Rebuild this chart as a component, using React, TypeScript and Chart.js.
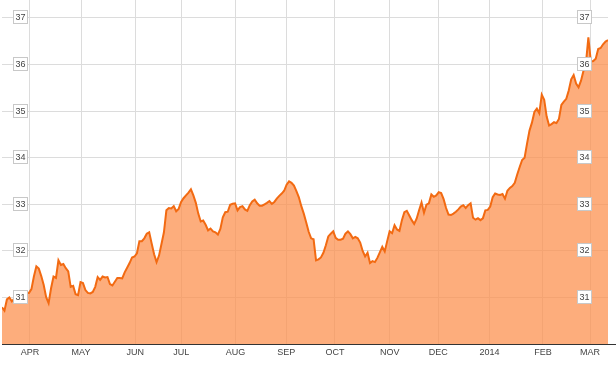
import React, { useEffect, useRef } from "react";
import { Chart, registerables } from "chart.js";

Chart.register(...registerables);

// Daily closing prices (trading days, mid-March 2013 to mid-March 2014)
const prices: number[] = [
  30.79, 30.72, 30.96, 31.0, 30.92, 30.98, 31.0, 31.02, 31.05, 31.07,
  31.1, 31.1, 31.18, 31.45, 31.67, 31.62, 31.46, 31.27, 31.01, 30.88,
  31.2, 31.45, 31.42, 31.8, 31.7, 31.72, 31.63, 31.56, 31.23, 31.25,
  31.07, 31.05, 31.33, 31.31, 31.16, 31.1, 31.09, 31.12, 31.23, 31.44,
  31.38, 31.45, 31.43, 31.44, 31.29, 31.26, 31.34, 31.42, 31.42, 31.41,
  31.54, 31.64, 31.74, 31.86, 31.88, 31.95, 32.21, 32.21, 32.27, 32.37,
  32.4, 32.16, 31.93, 31.76, 31.9, 32.15, 32.4, 32.87, 32.92, 32.91,
  32.96, 32.85, 32.9, 33.05, 33.13, 33.19, 33.25, 33.32, 33.19, 33.03,
  32.8, 32.63, 32.65, 32.56, 32.44, 32.48, 32.42, 32.4, 32.35, 32.47,
  32.72, 32.83, 32.84, 32.99, 33.01, 33.02, 32.87, 32.94, 32.96, 32.89,
  32.86, 32.98, 33.06, 33.1, 33.02, 32.97, 32.97, 33.0, 33.03, 33.07,
  33.01, 33.05, 33.12, 33.18, 33.23, 33.29, 33.42, 33.49, 33.46, 33.4,
  33.28, 33.15, 32.96, 32.8, 32.61, 32.41, 32.27, 32.25, 31.8, 31.82,
  31.86, 31.96, 32.12, 32.31, 32.37, 32.42, 32.28, 32.24, 32.24, 32.26,
  32.37, 32.42, 32.36, 32.27, 32.3, 32.27, 32.18, 32.0, 31.88, 31.96,
  31.74, 31.78, 31.76, 31.85, 31.97, 32.09, 31.99, 32.21, 32.42, 32.38,
  32.55, 32.46, 32.43, 32.66, 32.83, 32.86, 32.76, 32.66, 32.58, 32.69,
  32.87, 33.04, 32.82, 32.99, 33.02, 33.21, 33.16, 33.19, 33.26, 33.24,
  33.11, 32.92, 32.78, 32.77, 32.8, 32.84, 32.89, 32.95, 32.98, 32.92,
  32.98, 33.02, 32.71, 32.67, 32.7, 32.66, 32.7, 32.87, 32.88, 32.95,
  33.15, 33.23, 33.21, 33.2, 33.22, 33.12, 33.29, 33.35, 33.39, 33.46,
  33.64, 33.8, 33.95, 34.0, 34.3, 34.58, 34.75, 34.98, 35.05, 34.95,
  35.35, 35.24, 34.88, 34.69, 34.72, 34.76, 34.74, 34.83, 35.13, 35.2,
  35.26, 35.44, 35.68, 35.77, 35.59, 35.51, 35.65, 35.86, 36.02, 36.58,
  36.06, 36.07, 36.12, 36.33, 36.35, 36.43, 36.49, 36.52,
];

// Month labels and the trading-day index where each month starts
const monthLabels: string[] = ["APR", "MAY", "JUN", "JUL", "AUG", "SEP", "OCT", "NOV", "DEC", "2014", "FEB", "MAR"];
const monthStartIndex: number[] = [11.4, 32.2, 54.3, 73.1, 95.2, 115.9, 135.7, 158, 177.8, 198.7, 220.5, 239.7];

// Price axis
const yTicks: number[] = [31, 32, 33, 34, 35, 36, 37];
const yMin = 30;
const yMax = 37.38;

const LINE_COLOR = "#f26a12";
const FILL_COLOR = "rgba(252,146,80,0.75)";
const GRID_COLOR = "#dcdcdc";
const TEXT_COLOR = "#444444";
const FONT_FAMILY = "'Liberation Sans', Arial, sans-serif";

const boxLabelsPlugin = {
  id: "boxLabels",
  afterDraw(chart: any) {
    const { ctx, chartArea, scales } = chart;
    const y = scales.y;
    ctx.save();
    // bottom axis line
    ctx.strokeStyle = "#333333";
    ctx.lineWidth = 1;
    ctx.beginPath();
    ctx.moveTo(chartArea.left, Math.round(chartArea.bottom) + 0.5);
    ctx.lineTo(chart.width, Math.round(chartArea.bottom) + 0.5);
    ctx.stroke();

    ctx.font = `9px ${FONT_FAMILY}`;
    ctx.textAlign = "center";
    ctx.textBaseline = "middle";
    const w = 14;
    const h = 13;
    const centers = [chartArea.left + 17.5, chartArea.right - 24.5];
    yTicks.forEach((v) => {
      const py = y.getPixelForValue(v);
      centers.forEach((cx) => {
        const bx = Math.round(cx - w / 2) + 0.5;
        const by = Math.round(py - h / 2) - 0.5;
        ctx.fillStyle = "#ffffff";
        ctx.fillRect(bx, by, w, h);
        ctx.strokeStyle = "#c8c8c8";
        ctx.strokeRect(bx, by, w, h);
        ctx.fillStyle = TEXT_COLOR;
        ctx.fillText(String(v), bx + w / 2, by + h / 2 + 0.5);
      });
    });
    ctx.restore();
  },
};

export default function App() {
  const canvasRef = useRef<HTMLCanvasElement | null>(null);

  useEffect(() => {
    const canvas = canvasRef.current;
    if (!canvas) return;
    const chart = new Chart(canvas, {
      type: "line",
      data: {
        datasets: [
          {
            data: prices.map((p, i) => ({ x: i, y: p })),
            borderColor: LINE_COLOR,
            borderWidth: 2,
            backgroundColor: FILL_COLOR,
            fill: "start",
            pointRadius: 0,
            tension: 0,
          },
        ],
      },
      options: {
        responsive: false,
        animation: false,
        events: [],
        layout: { padding: { left: 2, right: 8, top: 0, bottom: 8 } },
        plugins: {
          legend: { display: false },
          tooltip: { enabled: false },
        },
        scales: {
          x: {
            type: "linear",
            min: 0,
            max: prices.length - 1,
            afterBuildTicks: (scale: any) => {
              scale.ticks = monthStartIndex.map((v) => ({ value: v }));
            },
            ticks: {
              autoSkip: false,
              maxRotation: 0,
              padding: 3,
              color: TEXT_COLOR,
              font: { family: FONT_FAMILY, size: 9 },
              callback: (_v: any, index: number) => monthLabels[index],
            },
            grid: { color: GRID_COLOR, drawTicks: false, lineWidth: 1 },
            border: { display: false },
          },
          y: {
            type: "linear",
            min: yMin,
            max: yMax,
            afterBuildTicks: (scale: any) => {
              scale.ticks = yTicks.map((v) => ({ value: v }));
            },
            ticks: { display: false },
            grid: { color: GRID_COLOR, drawTicks: false, lineWidth: 1 },
            border: { display: false },
          },
        },
      },
      plugins: [boxLabelsPlugin],
    });
    return () => chart.destroy();
  }, []);

  return (
    <div style={{ position: "fixed", left: 0, top: 0, width: 616, height: 369, background: "#ffffff" }}>
      <canvas ref={canvasRef} width={616} height={369} style={{ display: "block" }} />
    </div>
  );
}
